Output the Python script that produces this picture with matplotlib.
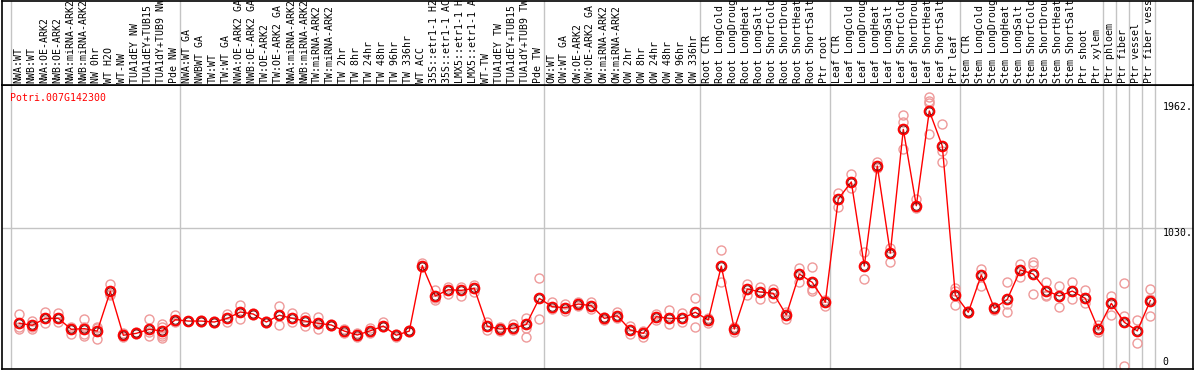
import numpy as np
import matplotlib
matplotlib.use('Agg')
import matplotlib.pyplot as plt

# Sample names (top labels)
samples = ['NWA:WT', 'NWB:WT', 'NWA:OE-ARK2', 'NWB:OE-ARK2', 'NWA:miRNA-ARK2', 'NWB:miRNA-ARK2',
           'NW 0hr', 'WT H2O', 'WT-NW', 'TUA1dEY NW', 'TUA1dEY+TUB15 NW', 'TUA1dY+TUB9 NW', 'Pde NW',
           'NWA:WT GA', 'NWBWT GA', 'TW:WT', 'TW:WT GA', 'NWA:OE-ARK2 GA', 'NWB:OE-ARK2 GA',
           'TW:OE-ARK2', 'TW:OE-ARK2 GA', 'NWA:miRNA-ARK2', 'NWB:miRNA-ARK2', 'TW:miRNA-ARK2',
           'TW:miRNA-ARK2', 'TW 2hr', 'TW 8hr', 'TW 24hr', 'TW 48hr', 'TW 96hr', 'TW 336hr', 'WT ACC',
           '35S::etr1-1 H2O', '35S::etr1-1 ACC', 'LMX5::etr1-1 H2O', 'LMX5::etr1-1 ACC', 'WT-TW',
           'TUA1dEY TW', 'TUA1dEY+TUB15 TW', 'TUA1dY+TUB9 TW', 'Pde TW',
           'OW:WT', 'OW:WT GA', 'OW:OE-ARK2', 'OW:OE-ARK2 GA', 'OW:miRNA-ARK2', 'OW:miRNA-ARK2',
           'OW 2hr', 'OW 8hr', 'OW 24hr', 'OW 48hr', 'OW 96hr', 'OW 336hr',
           'Root CTR', 'Root LongCold', 'Root LongDrought', 'Root LongHeat', 'Root LongSalt',
           'Root ShortCold', 'Root ShortDrought', 'Root ShortHeat', 'Root ShortSalt', 'Ptr root',
           'Leaf CTR', 'Leaf LongCold', 'Leaf LongDrought', 'Leaf LongHeat', 'Leaf LongSalt',
           'Leaf ShortCold', 'Leaf ShortDrought', 'Leaf ShortHeat', 'Leaf ShortSalt', 'Ptr leaf',
           'Stem CTR', 'Stem LongCold', 'Stem LongDrought', 'Stem LongHeat', 'Stem LongSalt',
           'Stem ShortCold', 'Stem ShortDrought', 'Stem ShortHeat', 'Stem ShortSalt', 'Ptr shoot',
           'Ptr xylem', 'Ptr phloem', 'Ptr fiber', 'Ptr vessel', 'Ptr fiber vessel']

# Mean expression per sample
means = [325, 311, 362, 362, 281, 286, 268, 562, 237, 251, 281, 268, 352,
         342, 342, 335, 362, 409, 394, 335, 385, 362, 342, 325, 313, 268, 239, 270,
         305, 237, 268, 752, 527, 574, 569, 584, 303, 283, 289, 317, 510,
         448, 441, 468, 456, 362, 382, 276, 251, 374, 362, 362, 407,
         350, 749, 283, 579, 557, 547, 387, 690, 628, 481,
         1245, 1371, 749, 1489, 845, 1760, 1195, 1896, 1637, 535,
         407, 683, 436, 503, 720, 690, 567, 527, 564, 510, 283,
         473, 333, 269, 493]

# Replicate values per sample
reps = [[392, 296, 281], [342, 281, 300], [409, 325, 362], [399, 335, 362], [246, 281, 300],
        [355, 300, 246, 231], [300, 207, 290], [614, 535, 545], [250, 226, 237], [260, 243, 251],
        [355, 231, 258], [320, 300, 246, 231, 216], [387, 332, 345],
        [342, 345], [350, 335], [345, 325], [392, 335], [461, 355, 409], [404, 387], [345, 325],
        [453, 313, 390], [399, 332], [372, 305, 350], [374, 283, 320], [320, 305], [285, 250],
        [250, 226], [290, 250], [335, 295], [246, 226], [276, 262], [769, 740], [572, 498, 512],
        [592, 540], [592, 527], [609, 555], [335, 276], [300, 268], [320, 276],
        [362, 317, 289, 221], [658, 355],
        [485, 429], [468, 417], [485, 456], [480, 429], [374, 350], [410, 362], [305, 246],
        [270, 221], [394, 350], [424, 320], [399, 332], [510, 296],
        [367, 325], [868, 633], [300, 258], [616, 535], [592, 505], [579, 515], [410, 355],
        [732, 633], [740, 579, 565], [500, 456],
        [1292, 1188], [1430, 1324], [855, 651], [1521, 1472], [880, 781], [1866, 1817, 1612],
        [1243, 1176], [1997, 1972, 1953, 1726], [1800, 1602, 1521], [584, 567, 459],
        [415, 400], [727, 601], [445, 425], [629, 468, 411], [764, 666], [781, 757, 542],
        [629, 535, 528], [601, 444], [629, 503], [572, 478], [313, 263],
        [527, 387], [621, 380, 10], [350, 178], [576, 503, 380]]

# last sample index of each group (separators)
group_ends = [-1, 12, 40, 52, 62, 72, 83, 84, 85, 86, 87]

yticks = [0, 1030, 1962]
ytick_labels = ['0', '1030.', '1962.']
gene = 'Potri.007G142300'

mono = 'DejaVu Sans Mono'
fs = 7.1
W, H = 1194, 370
fig = plt.figure(figsize=(W / 100, H / 100), dpi=100)

# pixel layout
left_px, right_px = 2, 1193
top_px, mid_px, bot_px = 0.5, 85, 369
x0_px, step_px = 19.3, 13.0
xlim = ((left_px - x0_px) / step_px, (right_px - x0_px) / step_px)
ylim = (-12.6, 2088)

ax = fig.add_axes([left_px / W, (H - bot_px) / H, (right_px - left_px) / W, (bot_px - mid_px) / H])
lab = fig.add_axes([left_px / W, (H - mid_px) / H, (right_px - left_px) / W, (mid_px - top_px) / H])

for a in (ax, lab):
    a.set_xlim(xlim)
    a.set_xticks([])
    a.set_yticks([])
    for s in a.spines.values():
        s.set_color('black')
        s.set_linewidth(1.2)
    for e in group_ends:
        a.axvline(e + 0.38, color='#c4c4c4', lw=1.0, zorder=0)
ax.set_ylim(ylim)
lab.set_ylim(0, 1)

x = np.arange(len(samples))

# horizontal grid line
ax.axhline(yticks[1], color='#c4c4c4', lw=1.0, zorder=0)

# replicates
for i, r in enumerate(reps):
    ax.plot([i] * len(r), r, 'o', ms=6.5, mfc='none', mec='#ee9a9a', mew=1.0, zorder=2)

# mean line
ax.plot(x, means, '-', color='red', lw=1.0, zorder=3)
ax.plot(x, means, 'o', ms=7, mfc='none', mec='red', mew=1.4, zorder=4)
ax.plot(x, means, 'o', ms=5.2, mfc='none', mec='#500000', mew=0.5, zorder=5)

# sample labels
for i, name in enumerate(samples):
    lab.text(i - 0.1, 0.025, name, rotation=90, ha='center', va='bottom',
             family=mono, fontsize=fs, color='black', clip_on=True)

# gene name
ax.text(0.007, 0.955, gene, transform=ax.transAxes, family=mono, fontsize=fs,
        color='red', ha='left', va='center')

# y tick labels on the right side
tr = ax.get_yaxis_transform()
for v, t in zip(yticks, ytick_labels):
    va = 'bottom' if v == 0 else 'top'
    ax.text(0.9745, v + (5 if v == 0 else 0), t, transform=tr, family=mono, fontsize=fs,
            ha='left', va=va, color='black')

fig.savefig('out.png', dpi=100)
